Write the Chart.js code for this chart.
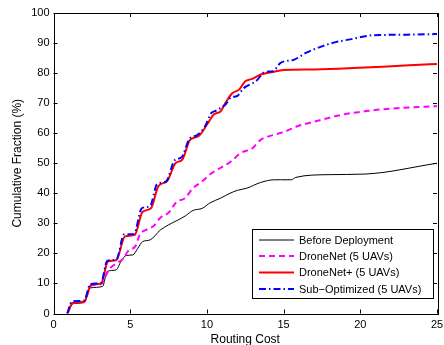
<!DOCTYPE html>
<html>
<head>
<meta charset="utf-8">
<script src="https://cdn.jsdelivr.net/npm/chart.js@4.4.1/dist/chart.umd.min.js"></script>
<style>
html,body{margin:0;padding:0;background:#fff;}
#wrap{width:444px;height:345px;position:relative;}
</style>
</head>
<body>
<div id="wrap"><canvas id="c" width="444" height="345"></canvas></div>
<script>
const seriesNames = ["Before Deployment", "DroneNet (5 UAVs)", "DroneNet+ (5 UAVs)", "Sub\u2212Optimized (5 UAVs)"];
const xTicks = [0, 5, 10, 15, 20, 25];
const yTicks = [0, 10, 20, 30, 40, 50, 60, 70, 80, 90, 100];

const beforeX = [0.9,1.3,2.0,2.4,3.2,3.5,4.08,4.4,4.73,5.17,5.5,5.8,6.3,6.97,7.5,8.07,8.6,9.1,9.7,10.2,10.9,11.5,12.0,12.6,13.5,14.4,14.8,15.5,15.8,17.9,20.3,25];
const beforeY = [0,3.3,3.6,8.5,9,14,14.5,17.3,19.3,19.5,21.7,23.9,24.5,27.8,29.5,31,32.5,34.3,35,36.8,38.4,40,41,41.7,43.6,44.5,44.5,44.5,45.3,46.2,46.4,50];

const droneNetX = [0.9,1.25,2.0,2.45,3.1,3.6,4.2,4.5,4.9,5.35,5.6,6.1,6.5,7.0,7.5,8.0,8.6,9.05,9.7,10.25,10.9,11.55,12.2,12.97,13.5,14.4,15.1,15.9,16.8,17.65,18.5,19.4,20.3,21.1,22.7,25];
const droneNetY = [0,3.5,3.9,9.3,9.8,14.5,17,18,21,22.5,26,28,29,32,33.5,37,38.5,41.5,44,46.5,48.5,50.5,53.4,55,57.8,59.5,60.6,62.3,63.6,64.7,65.8,66.7,67.3,67.8,68.4,69];

const droneNetPlusX = [0.9,1.25,2.0,2.45,3.1,3.55,4.1,4.65,5.3,5.8,6.35,6.85,7.4,7.95,8.4,8.9,9.45,10.0,10.45,10.9,11.2,11.65,12.1,12.5,12.9,13.6,14.2,15.0,17.0,25];
const droneNetPlusY = [0,3.5,4,9.5,10,17.3,17.8,25.6,26.2,33.8,35,42.5,44,50,51.2,57.8,59,62.8,66.2,67.3,70,73.3,74.5,77.3,78,79.7,80.3,81,81.2,83];

const subOptX = [0.9,1.2,2.0,2.4,3.1,3.5,4.1,4.6,5.25,5.75,6.3,6.75,7.35,7.9,8.35,8.85,9.4,9.9,10.25,10.6,11.2,11.6,11.95,12.4,13.2,13.8,14.3,14.8,15.7,16.45,17.5,18.4,19.5,20.6,21.5,23.1,25];
const subOptY = [0,4,4.3,9.8,10.2,17.5,18,26.3,26.5,35,35.8,43,44,51,52,58,59.5,62.5,66.5,67.5,69.5,72,72.3,75,77.3,80.4,80.6,83.4,84.5,86.7,88.9,90.3,91.4,92.5,92.7,92.8,93];

function pts(xs, ys){ return xs.map((x,i)=>({x:x, y:ys[i]})); }

const styles = [
  {color:'#000000', width:1, dash:[]},
  {color:'#ff00ff', width:2, dash:[6,4]},
  {color:'#ff0000', width:2, dash:[]},
  {color:'#0000ff', width:2, dash:[7,3,1.5,3]}
];
const allData = [pts(beforeX,beforeY), pts(droneNetX,droneNetY), pts(droneNetPlusX,droneNetPlusY), pts(subOptX,subOptY)];

const datasets = allData.map((d,i)=>({
  label: seriesNames[i],
  data: d,
  borderColor: styles[i].color,
  borderWidth: styles[i].width,
  borderDash: styles[i].dash,
  pointRadius: 0,
  fill: false,
  cubicInterpolationMode: 'monotone',
  order: 4 - i
}));

const FONT = "'Liberation Sans', Arial, Helvetica, sans-serif";

const framePlugin = {
  id: 'frame',
  afterDatasetsDraw(chart){
    const {ctx, chartArea:a, scales:{x, y}} = chart;
    ctx.save();
    ctx.strokeStyle = '#000';
    ctx.lineWidth = 1;
    ctx.setLineDash([]);
    ctx.strokeRect(Math.round(a.left)+0.5, Math.round(a.top)+0.5, Math.round(a.right-a.left), Math.round(a.bottom-a.top));
    const tl = 4;
    ctx.beginPath();
    xTicks.forEach(v=>{
      const px = Math.round(x.getPixelForValue(v))+0.5;
      ctx.moveTo(px, a.bottom); ctx.lineTo(px, a.bottom - tl);
      ctx.moveTo(px, a.top); ctx.lineTo(px, a.top + tl);
    });
    yTicks.forEach(v=>{
      const py = Math.round(y.getPixelForValue(v))+0.5;
      ctx.moveTo(a.left, py); ctx.lineTo(a.left + tl, py);
      ctx.moveTo(a.right, py); ctx.lineTo(a.right - tl, py);
    });
    ctx.stroke();

    // legend
    const lx = 252.5, ly = 229.5, lw = 181, lh = 69;
    ctx.fillStyle = '#fff';
    ctx.fillRect(lx, ly, lw, lh);
    ctx.strokeRect(lx, ly, lw, lh);
    const rows = [240, 256, 272.5, 289];
    ctx.font = '11px ' + FONT;
    ctx.textBaseline = 'middle';
    ctx.textAlign = 'left';
    seriesNames.forEach((n,i)=>{
      ctx.beginPath();
      ctx.strokeStyle = styles[i].color;
      ctx.lineWidth = styles[i].width;
      ctx.setLineDash(styles[i].dash);
      ctx.moveTo(259, rows[i]); ctx.lineTo(294, rows[i]);
      ctx.stroke();
      ctx.fillStyle = '#000';
      ctx.fillText(n, 299, rows[i]+0.5);
    });
    ctx.restore();
  }
};

new Chart(document.getElementById('c'), {
  type: 'line',
  data: { datasets },
  plugins: [framePlugin],
  options: {
    responsive: false,
    animation: false,
    devicePixelRatio: 1,
    layout: { padding: { left: 0, top: 13, right: 7, bottom: 0 } },
    plugins: { legend: { display: false }, tooltip: { enabled: false } },
    scales: {
      x: {
        type: 'linear', min: 0, max: 25,
        afterFit: s => { s.height = 31.5; s.paddingLeft = 0; s.paddingRight = 0; },
        afterBuildTicks: s => { s.ticks = xTicks.map(v=>({value:v})); },
        grid: { display: false, drawTicks: false },
        border: { display: false },
        ticks: { color: '#000', padding: 5, font: { family: FONT, size: 11 }, maxRotation: 0 },
        title: { display: true, text: 'Routing Cost', color: '#000', font: { family: FONT, size: 12 }, padding: { top: 0, bottom: -2 } }
      },
      y: {
        type: 'linear', min: 0, max: 100,
        afterFit: s => { s.width = 53.5; s.paddingTop = 0; s.paddingBottom = 0; },
        afterBuildTicks: s => { s.ticks = yTicks.map(v=>({value:v})); },
        grid: { display: false, drawTicks: false },
        border: { display: false },
        ticks: { color: '#000', padding: 4, font: { family: FONT, size: 11 } },
        title: { display: true, text: 'Cumulative Fraction (%)', color: '#000', font: { family: FONT, size: 12 }, padding: { top: 10, bottom: 0 } }
      }
    }
  }
});
</script>
</body>
</html>
